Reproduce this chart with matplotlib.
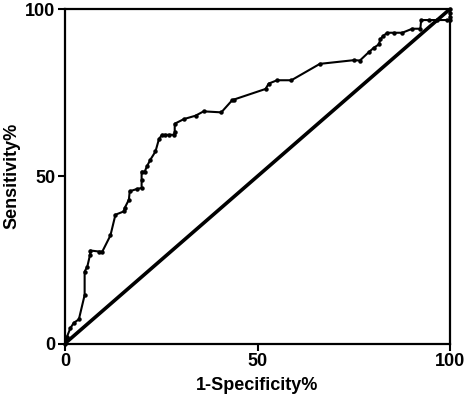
import matplotlib
matplotlib.use("Agg")
import matplotlib.pyplot as plt

# ROC points (1-Specificity%, Sensitivity%)
fpr = [0, 0.5, 1.4, 2.3, 3.6, 5.1, 5.1, 5.8, 6.5, 6.6, 8.8, 9.7, 11.8, 13.1,
       15.3, 15.5, 16.6, 16.8, 18.7, 19.9, 19.9, 19.9, 20.7, 21.3, 22.2, 23.5,
       24.4, 25.2, 26.0, 27.0, 28.3, 28.5, 28.5, 30.9, 33.9, 36.0, 40.6, 43.4,
       43.8, 52.1, 52.9, 55.1, 58.8, 66.2, 75.0, 76.6, 78.9, 80.2, 81.5, 81.9,
       82.6, 83.7, 85.4, 87.6, 90.2, 92.3, 92.5, 94.5, 96.5, 99.2, 100, 100, 100, 100]
tpr = [0, 2.0, 4.6, 6.2, 7.2, 14.5, 21.5, 23.0, 26.5, 27.8, 27.5, 27.5, 32.3, 38.5,
       39.5, 40.5, 43.0, 45.5, 46.2, 46.5, 49.0, 51.4, 51.4, 53.0, 55.0, 57.4,
       61.1, 62.4, 62.4, 62.4, 62.4, 63.2, 65.7, 67.1, 68.1, 69.4, 69.1, 72.7,
       72.9, 76.1, 77.7, 78.7, 78.7, 83.6, 84.7, 84.6, 87.1, 88.4, 89.4, 90.9,
       91.9, 92.9, 92.9, 92.9, 94.1, 94.1, 96.7, 96.7, 96.7, 96.7, 96.7, 97.7, 98.7, 100]

ticks = [0, 50, 100]

plt.rcParams['font.family'] = ['Liberation Sans', 'DejaVu Sans']
plt.rcParams['font.weight'] = 'bold'

fig = plt.figure(figsize=(4.68, 4.03), dpi=100)
ax = fig.add_axes([65 / 468, 1 - 343.5 / 403, 385 / 468, 334.5 / 403])

ax.plot([0, 100], [0, 100], color="black", lw=2.6, solid_capstyle="butt", zorder=2)
ax.plot(fpr, tpr, color="black", lw=1.5, marker="o", ms=2.2, zorder=3, clip_on=False)

ax.set_xlim(0, 100)
ax.set_ylim(0, 100)
ax.set_xticks(ticks)
ax.set_yticks(ticks)
ax.tick_params(direction="out", length=5, width=1.5, labelsize=13, pad=2)
for lab in ax.get_xticklabels() + ax.get_yticklabels():
    lab.set_fontweight("bold")
for s in ax.spines.values():
    s.set_linewidth(1.6)

ax.set_xlabel("1-Specificity%", fontsize=13, fontweight="bold", labelpad=5)
ax.set_ylabel("Sensitivity%", fontsize=13, fontweight="bold", labelpad=3)

fig.savefig("out.png", dpi=100)
